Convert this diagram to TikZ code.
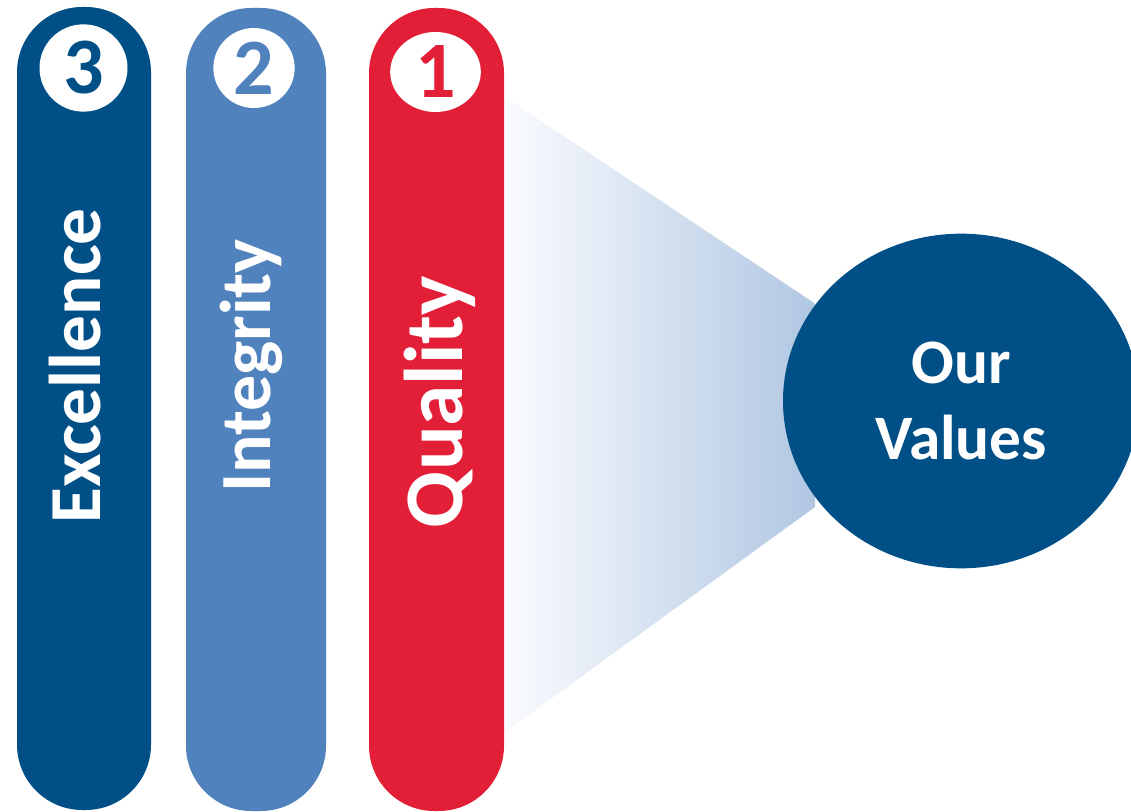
\documentclass[tikz,border=0pt]{standalone}
\usepackage{fontspec}
\setmainfont{Carlito}
\usetikzlibrary{shapes.geometric,backgrounds}

\definecolor{barnavy}{RGB}{0,80,135}
\definecolor{barsky}{RGB}{80,130,189}
\definecolor{barred}{RGB}{227,30,55}
\definecolor{fadelight}{RGB}{250,251,254}
\definecolor{fadeblue}{RGB}{176,199,226}

\tikzset{
  bar/.style={rectangle, rounded corners=49pt, inner sep=0pt, minimum height=602.25pt},
  numdot/.style={ellipse, fill=white, inner sep=0pt, font=\bfseries\fontsize{60}{66}\selectfont},
  vlabel/.style={rotate=90, anchor=base, inner sep=0pt, text=white, font=\bfseries}
}

\begin{document}
\begin{tikzpicture}[x=0.75pt,y=0.75pt,yscale=-1,xscale=1]
%set diagram left start at 0, and has height of 812
\clip (0,0) rectangle (1131,812);

%Rounded Rect [bar 3]
\node [bar, fill=barnavy, minimum width=100.5pt] (bar3) at (84,408.5) {};
%Rounded Rect [bar 2]
\node [bar, fill=barsky, minimum width=105pt] (bar2) at (256,409.5) {};
%Rounded Rect [bar 1]
\node [bar, fill=barred, minimum width=101.25pt] (bar1) at (436.5,409.5) {};

%Numbers
\node [numdot, minimum width=66pt, minimum height=65.5pt, text=barnavy] (num3) at (83.5,68) {3};
\node [numdot, minimum width=61pt, minimum height=60pt, text=barsky] (num2) at (254,68) {2};
\node [numdot, minimum width=68pt, minimum height=60pt, text=barred] (num1) at (435.5,72) {1};

% Text Node
\node [vlabel, font=\bfseries\fontsize{55}{62}\selectfont] (excellence) at (100,366) {Excellence};
% Text Node
\node [vlabel, font=\bfseries\fontsize{54}{62}\selectfont] (integrity) at (270,366) {Integrity};
% Text Node
\node [vlabel, font=\bfseries\fontsize{62.5}{70}\selectfont] (quality) at (462,402) {Quality};

%Ellipse [Our Values]
\node [ellipse, fill=barnavy, inner sep=0pt, minimum width=267pt, minimum height=251pt,
       text=white, align=center, font=\bfseries\fontsize{47.5}{57}\selectfont] (values) at (961,401) {Our\\Values};

%Fade from bar 1 to the ellipse
\coordinate (fadetop) at (505,97);
\coordinate (fadebot) at (505,732);
\begin{pgfonlayer}{background}
\begin{scope}
\clip (fadetop) -- (values.center) -- (fadebot) -- cycle;
\shade [left color=fadelight, right color=fadeblue] (505,97) rectangle (815,732);
\end{scope}
\end{pgfonlayer}

\end{tikzpicture}
\end{document}
